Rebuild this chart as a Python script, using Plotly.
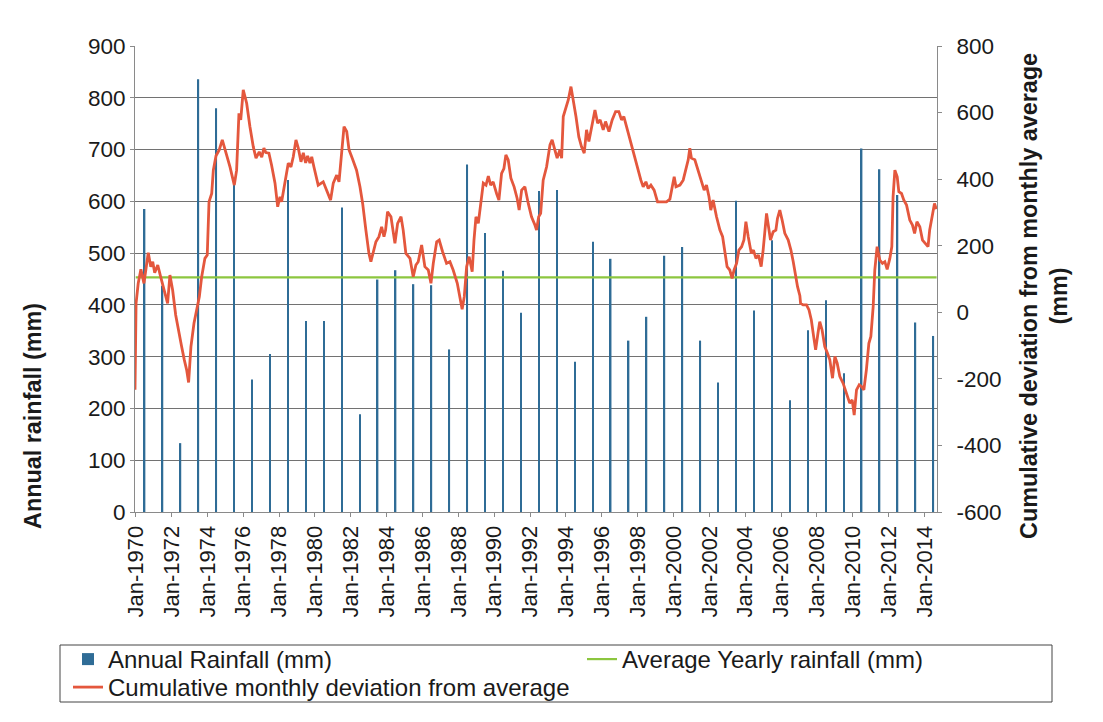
import datetime as dt
import plotly.graph_objects as go

# ---------------- data ----------------
years = list(range(1970, 2015))
annual_rainfall = [585, 437, 133, 836, 780, 635, 256, 305, 641, 369,
                   369, 588, 189, 449, 467, 440, 438, 314, 671, 539,
                   466, 385, 620, 622, 290, 522, 489, 331, 377, 495,
                   512, 331, 250, 601, 389, 525, 216, 351, 409, 268,
                   702, 662, 612, 366, 340]

avg_dates = ["1970-01-16", "2014-09-20"]
avg_rainfall = [453, 453]

left_ticks = [0, 100, 200, 300, 400, 500, 600, 700, 800, 900]
right_ticks = [-600, -400, -200, 0, 200, 400, 600, 800]
right_tick_text = ["-600", "-400", "-200", "0", "200", "400", "600", "800"]

cum_t = [1970.00, 1970.06, 1970.18, 1970.33, 1970.50, 1970.74, 1970.88, 1970.99, 1971.10, 1971.27,
         1971.43, 1971.58, 1971.82, 1971.95, 1972.10, 1972.27, 1972.47, 1972.60, 1972.75, 1972.88,
         1972.99, 1973.12, 1973.29, 1973.44, 1973.59, 1973.72, 1973.90, 1974.03, 1974.13, 1974.28,
         1974.37, 1974.52, 1974.70, 1974.87, 1975.08, 1975.30, 1975.54, 1975.67, 1975.80, 1975.90,
         1976.04, 1976.23, 1976.41, 1976.60, 1976.75, 1976.93, 1977.07, 1977.19, 1977.30, 1977.47,
         1977.62, 1977.81, 1977.96, 1978.09, 1978.18, 1978.37, 1978.55, 1978.70, 1978.83, 1978.98,
         1979.11, 1979.26, 1979.39, 1979.52, 1979.63, 1979.76, 1979.86, 1979.98, 1980.22, 1980.50,
         1980.69, 1980.91, 1981.06, 1981.25, 1981.38, 1981.49, 1981.66, 1981.81, 1981.94, 1982.12,
         1982.36, 1982.55, 1982.70, 1982.88, 1983.05, 1983.16, 1983.29, 1983.44, 1983.61, 1983.76,
         1983.89, 1983.98, 1984.09, 1984.28, 1984.50, 1984.65, 1984.84, 1984.96, 1985.11, 1985.34,
         1985.52, 1985.67, 1985.80, 1985.99, 1986.17, 1986.36, 1986.51, 1986.64, 1986.83, 1986.97,
         1987.16, 1987.38, 1987.57, 1987.75, 1987.98, 1988.13, 1988.25, 1988.37, 1988.50, 1988.64,
         1988.81, 1988.91, 1989.02, 1989.15, 1989.28, 1989.43, 1989.58, 1989.71, 1989.84, 1989.98,
         1990.17, 1990.30, 1990.45, 1990.58, 1990.69, 1990.82, 1990.97, 1991.15, 1991.32, 1991.43,
         1991.57, 1991.75, 1991.94, 1992.12, 1992.31, 1992.40, 1992.52, 1992.63, 1992.77, 1992.96,
         1993.15, 1993.27, 1993.42, 1993.55, 1993.70, 1993.80, 1993.89, 1994.04, 1994.17, 1994.32,
         1994.45, 1994.60, 1994.76, 1994.91, 1995.06, 1995.19, 1995.32, 1995.47, 1995.66, 1995.81,
         1995.95, 1996.12, 1996.25, 1996.44, 1996.62, 1996.81, 1996.99, 1997.14, 1997.27, 1997.42,
         1997.61, 1997.74, 1997.89, 1998.07, 1998.22, 1998.35, 1998.50, 1998.63, 1998.78, 1998.96,
         1999.15, 1999.37, 1999.65, 1999.84, 1999.99, 2000.08, 2000.18, 2000.40, 2000.58, 2000.73,
         2000.86, 2000.95, 2001.04, 2001.23, 2001.41, 2001.60, 2001.75, 2001.88, 2002.02, 2002.12,
         2002.25, 2002.44, 2002.63, 2002.78, 2002.90, 2003.03, 2003.18, 2003.31, 2003.42, 2003.56,
         2003.69, 2003.84, 2003.97, 2004.08, 2004.21, 2004.38, 2004.50, 2004.64, 2004.78, 2004.93,
         2005.04, 2005.15, 2005.23, 2005.34, 2005.45, 2005.60, 2005.75, 2005.84, 2005.97, 2006.10,
         2006.25, 2006.44, 2006.59, 2006.72, 2006.85, 2006.96, 2007.09, 2007.13, 2007.27, 2007.46,
         2007.60, 2007.73, 2007.86, 2007.97, 2008.10, 2008.20, 2008.33, 2008.48, 2008.63, 2008.76,
         2008.91, 2009.04, 2009.17, 2009.32, 2009.50, 2009.69, 2009.87, 2010.01, 2010.12, 2010.25,
         2010.40, 2010.53, 2010.66, 2010.80, 2010.94, 2011.05, 2011.18, 2011.27, 2011.40, 2011.55,
         2011.70, 2011.83, 2011.96, 2012.11, 2012.22, 2012.29, 2012.39, 2012.52, 2012.61, 2012.76,
         2012.89, 2013.04, 2013.22, 2013.37, 2013.49, 2013.62, 2013.78, 2013.93, 2014.11, 2014.24,
         2014.33, 2014.48, 2014.60, 2014.70]
cum_dev = [-233, 27, 87, 129, 87, 179, 137, 152, 119, 142,
           107, 77, 27, 112, 67, -8, -73, -103, -143, -173,
           -211, -103, -33, 7, 47, 107, 162, 172, 332, 357,
           427, 470, 488, 518, 478, 437, 382, 427, 598, 578,
           668, 628, 558, 497, 463, 482, 466, 493, 480, 478,
           442, 388, 317, 347, 332, 397, 448, 437, 467, 518,
           493, 452, 479, 449, 470, 448, 467, 437, 382, 392,
           367, 337, 388, 412, 392, 467, 558, 543, 488, 463,
           427, 377, 327, 247, 177, 152, 182, 212, 227, 257,
           227, 247, 302, 287, 207, 267, 287, 247, 177, 162,
           107, 142, 152, 202, 137, 127, 87, 147, 212, 217,
           182, 147, 152, 127, 87, 47, 9, 47, 137, 167,
           122, 217, 287, 267, 327, 388, 382, 409, 382, 392,
           357, 337, 417, 432, 473, 458, 403, 377, 342, 307,
           367, 377, 327, 287, 262, 247, 287, 297, 397, 437,
           503, 518, 488, 463, 488, 463, 588, 618, 638, 678,
           638, 588, 527, 497, 478, 548, 513, 558, 608, 568,
           578, 548, 573, 543, 578, 603, 603, 578, 588, 558,
           518, 493, 467, 427, 397, 377, 392, 372, 382, 367,
           332, 332, 332, 340, 382, 407, 377, 382, 397, 427,
           458, 493, 463, 458, 427, 388, 367, 382, 347, 307,
           337, 287, 247, 227, 187, 137, 127, 102, 127, 147,
           187, 197, 217, 272, 227, 177, 187, 162, 172, 137,
           187, 257, 297, 257, 217, 242, 247, 282, 307, 277,
           237, 217, 187, 152, 107, 77, 50, 27, 22, 22,
           7, -23, -73, -113, -63, -28, -53, -103, -123, -143,
           -198, -133, -153, -193, -213, -243, -273, -263, -309, -233,
           -218, -223, -233, -173, -93, -73, 17, 127, 197, 157,
           147, 152, 129, 162, 197, 347, 427, 407, 362, 357,
           337, 322, 277, 262, 237, 272, 257, 217, 207, 197,
           247, 297, 327, 310]


def year_to_date(t):
    y = int(t)
    start = dt.datetime(y, 1, 1)
    end = dt.datetime(y + 1, 1, 1)
    return start + (end - start) * (t - y)


cum_dates = [year_to_date(t) for t in cum_t]
bar_dates = [f"{y}-07-16" for y in years]

# ---------------- styling / layout ----------------
OFF = 8                      # page body margin
W, H = 1095, 714
ML, MR, MT, MB = 127, 166, 38, 210
PW, PH = W - ML - MR, H - MT - MB


def px_x(sx):
    return (sx - OFF - ML) / PW


def px_y(sy):
    return (H - MB - (sy - OFF)) / PH


FONT = "Liberation Sans, Arial, sans-serif"
TXT = "#1a1a1a"
BAR_COLOR = "#2f6c96"
RED = "#e4573d"
GREEN = "#8cc63f"
GRID = "#727272"
AXIS = "#8a8a8a"

fig = go.Figure()
fig.add_trace(go.Bar(
    x=bar_dates, y=annual_rainfall, name="Annual Rainfall (mm)",
    marker=dict(color=BAR_COLOR, line=dict(width=0)),
    width=30 * 24 * 3600 * 1000, yaxis="y", legend="legend",
))
fig.add_trace(go.Scatter(
    x=avg_dates, y=avg_rainfall, name="Average Yearly rainfall (mm)",
    mode="lines", line=dict(color=GREEN, width=2.2), yaxis="y", legend="legend2",
))
fig.add_trace(go.Scatter(
    x=cum_dates, y=cum_dev, name="Cumulative monthly deviation from average",
    mode="lines", line=dict(color=RED, width=2.8), yaxis="y2", legend="legend3",
))

legend_common = dict(
    orientation="v", xanchor="left", yanchor="top",
    bgcolor="rgba(0,0,0,0)", borderwidth=0,
    font=dict(size=24, family=FONT, color=TXT),
    tracegroupgap=0, itemwidth=30,
)

fig.update_layout(
    width=W, height=H,
    margin=dict(l=ML, r=MR, t=MT, b=MB, autoexpand=False),
    paper_bgcolor="white", plot_bgcolor="white",
    font=dict(family=FONT, color=TXT, size=20),
    showlegend=True,
    xaxis=dict(
        type="date", range=["1970-01-01", "2014-09-28"],
        tick0="1970-01-16", dtick="M24", tickformat="%b-%Y",
        tickangle=-90, tickfont=dict(size=22, family=FONT, color=TXT),
        ticks="outside", ticklen=4, tickcolor=AXIS,
        showgrid=False, showline=True, linecolor=AXIS, linewidth=1,
        zeroline=False, automargin=False,
    ),
    yaxis=dict(
        range=[0, 900], tickvals=left_ticks,
        showgrid=True, gridcolor=GRID, gridwidth=1,
        showline=True, linecolor=AXIS, linewidth=1,
        ticks="outside", ticklen=4, tickcolor=AXIS,
        tickfont=dict(size=22.5, family=FONT, color=TXT),
        zeroline=False, automargin=False,
    ),
    yaxis2=dict(
        range=[-600, 800], tickvals=right_ticks, ticktext=right_tick_text,
        overlaying="y", side="right",
        showgrid=False, showline=True, linecolor=AXIS, linewidth=1,
        ticks="outside", ticklen=4, tickcolor=AXIS,
        ticklabelstandoff=10,
        tickfont=dict(size=22.5, family=FONT, color=TXT),
        zeroline=False, automargin=False,
    ),
    legend=dict(x=px_x(68), y=px_y(637), **legend_common),
    legend2=dict(x=px_x(582), y=px_y(637), **legend_common),
    legend3=dict(x=px_x(68), y=px_y(665), **legend_common),
    shapes=[
        dict(type="rect", xref="paper", yref="paper",
             x0=px_x(60), x1=px_x(1052), y0=px_y(702), y1=px_y(645),
             line=dict(color="#444", width=1), fillcolor="rgba(0,0,0,0)"),
    ],
    annotations=[
        dict(text="<b>Annual rainfall (mm)</b>", textangle=-90,
             xref="paper", yref="paper", x=px_x(33), y=px_y(416),
             xanchor="center", yanchor="middle", showarrow=False,
             font=dict(size=23.4, family=FONT, color=TXT)),
        dict(text="<b>Cumulative deviation from monthly average<br>(mm)</b>", textangle=-90,
             xref="paper", yref="paper", x=px_x(1044), y=px_y(296),
             xanchor="center", yanchor="middle", showarrow=False,
             font=dict(size=23.4, family=FONT, color=TXT)),
    ],
)

fig.write_html("out.html")
